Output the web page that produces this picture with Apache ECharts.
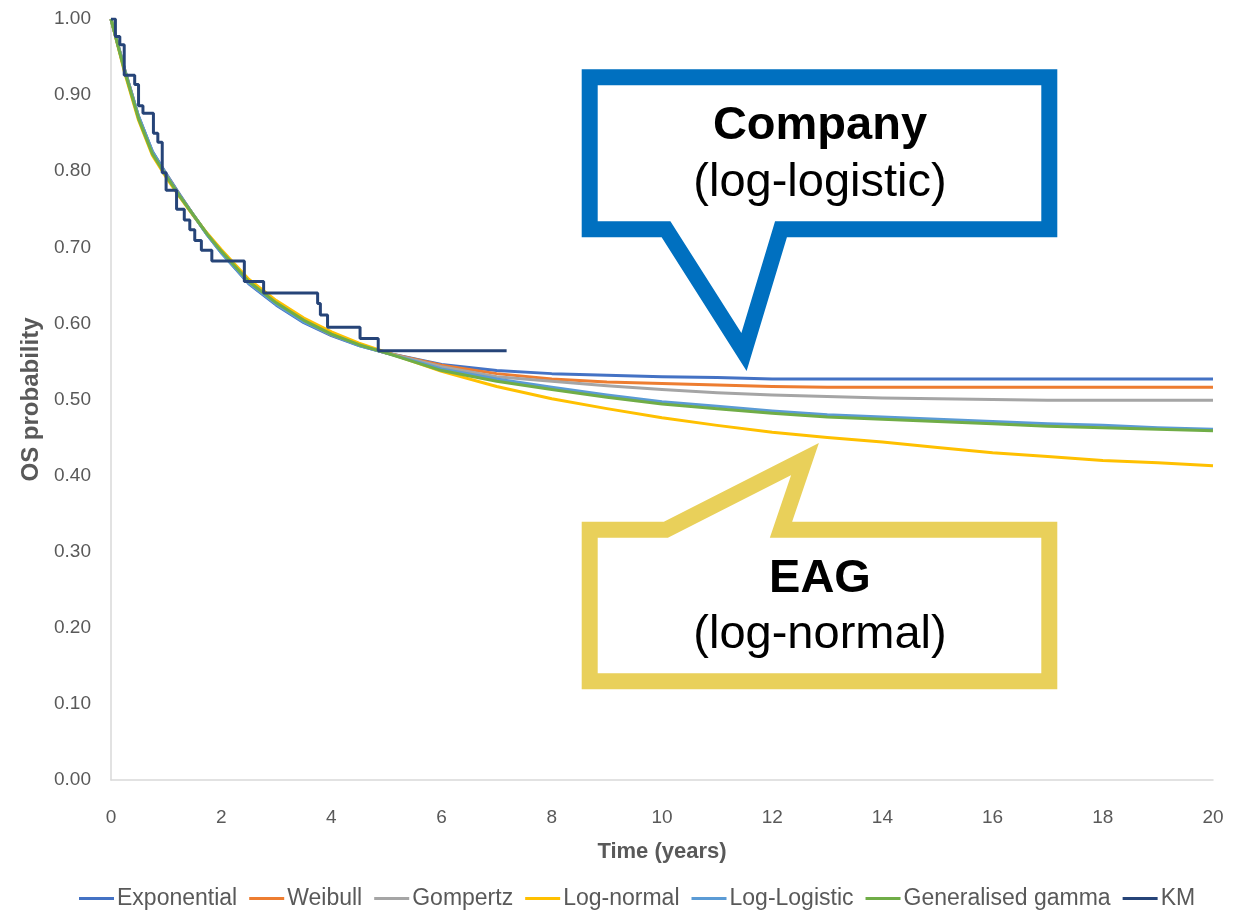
<!DOCTYPE html>
<html>
<head>
<meta charset="utf-8">
<title>OS extrapolations</title>
<script src="https://cdn.jsdelivr.net/npm/echarts@6/dist/echarts.min.js"></script>
<style>
  html, body { margin: 0; padding: 0; background: #ffffff; }
  #chart { width: 1234px; height: 911px; }
</style>
</head>
<body>
<div id="chart"></div>
<script>
// Time points (years) for the fitted parametric curves
const times = [0, 0.25, 0.5, 0.75, 1, 1.25, 1.5, 1.75, 2, 2.5, 3, 3.5, 4, 4.5, 5,
               6, 7, 8, 9, 10, 11, 12, 13, 14, 15, 16, 17, 18, 19, 20];

// Overall survival predicted by each model
const exponential = [1.000, 0.933, 0.872, 0.826, 0.797, 0.769, 0.742, 0.716, 0.693, 0.652, 0.624, 0.601, 0.584, 0.571, 0.561,
                     0.546, 0.538, 0.534, 0.532, 0.530, 0.529, 0.527, 0.527, 0.527, 0.527, 0.527, 0.527, 0.527, 0.527, 0.527];
const weibull     = [1.000, 0.933, 0.871, 0.825, 0.796, 0.768, 0.742, 0.717, 0.694, 0.654, 0.626, 0.603, 0.585, 0.572, 0.561,
                     0.545, 0.534, 0.527, 0.523, 0.521, 0.519, 0.517, 0.516, 0.516, 0.516, 0.516, 0.516, 0.516, 0.516, 0.516];
const gompertz    = [1.000, 0.932, 0.870, 0.824, 0.795, 0.767, 0.742, 0.717, 0.695, 0.655, 0.627, 0.604, 0.586, 0.572, 0.561,
                     0.543, 0.530, 0.524, 0.518, 0.513, 0.509, 0.506, 0.504, 0.502, 0.501, 0.500, 0.499, 0.499, 0.499, 0.499];
const logNormal   = [1.000, 0.929, 0.867, 0.821, 0.792, 0.766, 0.741, 0.718, 0.697, 0.658, 0.630, 0.607, 0.589, 0.574, 0.562,
                     0.537, 0.517, 0.501, 0.488, 0.476, 0.466, 0.457, 0.450, 0.444, 0.437, 0.430, 0.425, 0.420, 0.417, 0.413];
const logLogistic = [1.000, 0.933, 0.872, 0.826, 0.796, 0.768, 0.742, 0.716, 0.693, 0.653, 0.625, 0.602, 0.585, 0.571, 0.561,
                     0.540, 0.527, 0.516, 0.506, 0.497, 0.491, 0.485, 0.480, 0.477, 0.474, 0.471, 0.468, 0.466, 0.463, 0.461];
const genGamma    = [1.000, 0.931, 0.869, 0.823, 0.794, 0.767, 0.742, 0.717, 0.695, 0.655, 0.627, 0.604, 0.586, 0.572, 0.561,
                     0.538, 0.524, 0.513, 0.503, 0.494, 0.488, 0.482, 0.477, 0.474, 0.471, 0.468, 0.465, 0.463, 0.461, 0.459];

// Kaplan-Meier estimate: event times and survival after each drop
const kmTimes = [0, 0.08, 0.16, 0.24, 0.43, 0.50, 0.58, 0.77, 0.85, 0.93, 1.00, 1.19, 1.33, 1.43, 1.52, 1.64, 1.83,
                 2.42, 2.77, 3.75, 3.80, 3.93, 4.52, 4.85, 7.18];
const kmSurv  = [1.000, 0.977, 0.966, 0.926, 0.914, 0.886, 0.876, 0.850, 0.838, 0.798, 0.775, 0.750, 0.736, 0.723, 0.709, 0.696, 0.682,
                 0.655, 0.640, 0.626, 0.611, 0.595, 0.580, 0.564, 0.564];

const seriesNames = ['Exponential', 'Weibull', 'Gompertz', 'Log-normal', 'Log-Logistic', 'Generalised gamma', 'KM'];
const seriesColors = ['#4472C4', '#ED7D31', '#A5A5A5', '#FFC000', '#5B9BD5', '#70AD47', '#264478'];
const xTicks = [0, 2, 4, 6, 8, 10, 12, 14, 16, 18, 20];

const zip = (xs, ys) => xs.map((x, i) => [x, ys[i]]);
const curves = [exponential, weibull, gompertz, logNormal, logLogistic, genGamma];

const series = curves.map((vals, i) => ({
  name: seriesNames[i],
  type: 'line',
  data: zip(times, vals),
  symbol: 'none',
  smooth: false,
  lineStyle: { width: 3, color: seriesColors[i], join: 'round' },
  itemStyle: { color: seriesColors[i] },
  z: 2 + i
}));
series.push({
  name: 'KM',
  type: 'line',
  step: 'end',
  data: zip(kmTimes, kmSurv),
  symbol: 'none',
  lineStyle: { width: 3, color: seriesColors[6] },
  itemStyle: { color: seriesColors[6] },
  z: 10
});

const labelFont = { color: '#595959', fontSize: 19, fontFamily: 'Liberation Sans, Arial, sans-serif' };

const chart = echarts.init(document.getElementById('chart'), null, { renderer: 'canvas' });
chart.setOption({
  animation: false,
  backgroundColor: '#ffffff',
  grid: { left: 111, right: 21, top: 19, bottom: 131, containLabel: false, outerBoundsMode: 'none' },
  xAxis: {
    type: 'value',
    min: 0, max: 20, interval: 2,
    name: 'Time (years)',
    nameLocation: 'middle',
    nameGap: 61,
    nameTextStyle: { color: '#595959', fontSize: 22, fontWeight: 'bold', fontFamily: 'Liberation Sans, Arial, sans-serif' },
    axisLine: { show: true, lineStyle: { color: '#D9D9D9', width: 1.5 } },
    axisTick: { show: false },
    splitLine: { show: false },
    axisLabel: Object.assign({ margin: 28, formatter: v => (xTicks.includes(v) ? String(v) : '') }, labelFont)
  },
  yAxis: {
    type: 'value',
    min: 0, max: 1, interval: 0.1,
    name: 'OS probability',
    nameLocation: 'middle',
    nameGap: 64,
    nameRotate: 90,
    nameTextStyle: { color: '#595959', fontSize: 24, fontWeight: 'bold', fontFamily: 'Liberation Sans, Arial, sans-serif' },
    axisLine: { show: true, lineStyle: { color: '#D9D9D9', width: 1.5 } },
    axisTick: { show: false },
    splitLine: { show: false },
    axisLabel: Object.assign({ margin: 20, formatter: v => v.toFixed(2) }, labelFont)
  },
  legend: {
    data: seriesNames,
    top: 882,
    left: 74,
    icon: 'rect',
    itemWidth: 35,
    itemHeight: 3,
    itemGap: 12,
    textStyle: { color: '#595959', fontSize: 23, fontFamily: 'Liberation Sans, Arial, sans-serif', padding: [0, 0, 0, -2] }
  },
  series: series,
  graphic: [
    {
      type: 'polygon',
      z: 100,
      shape: { points: [[589.7, 77.3], [1049.3, 77.3], [1049.3, 229.3], [781, 229.3], [744, 352], [666, 229.3], [589.7, 229.3]] },
      style: { fill: '#ffffff', stroke: '#0070C0', lineWidth: 16, lineJoin: 'miter', miterLimit: 10 }
    },
    {
      type: 'text', z: 101, x: 820, y: 126,
      style: { text: 'Company', fill: '#000000', font: 'bold 47px "Liberation Sans", Arial, sans-serif', align: 'center', verticalAlign: 'middle' }
    },
    {
      type: 'text', z: 101, x: 820, y: 183,
      style: { text: '(log-logistic)', fill: '#000000', font: '47px "Liberation Sans", Arial, sans-serif', align: 'center', verticalAlign: 'middle' }
    },
    {
      type: 'polygon',
      z: 100,
      shape: { points: [[589.7, 529.7], [666, 529.7], [805, 459], [781, 529.7], [1049.3, 529.7], [1049.3, 681.3], [589.7, 681.3]] },
      style: { fill: '#ffffff', stroke: '#E9D05A', lineWidth: 16, lineJoin: 'miter', miterLimit: 10 }
    },
    {
      type: 'text', z: 101, x: 820, y: 579,
      style: { text: 'EAG', fill: '#000000', font: 'bold 47px "Liberation Sans", Arial, sans-serif', align: 'center', verticalAlign: 'middle' }
    },
    {
      type: 'text', z: 101, x: 820, y: 635,
      style: { text: '(log-normal)', fill: '#000000', font: '47px "Liberation Sans", Arial, sans-serif', align: 'center', verticalAlign: 'middle' }
    }
  ]
});
</script>
</body>
</html>
